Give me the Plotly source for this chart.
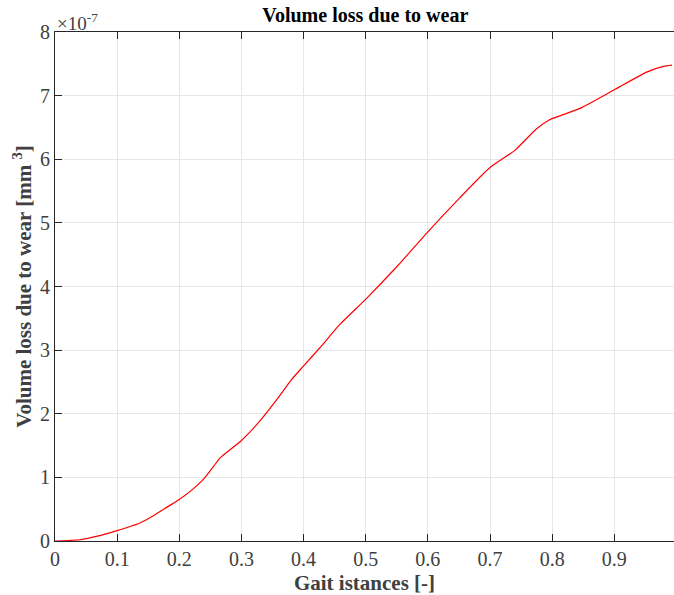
import plotly.graph_objects as go

# Data (x: gait instances, y: volume loss in 1e-7 mm^3)
gait = [0.0, 0.04, 0.07, 0.0985, 0.136, 0.152, 0.175, 0.198, 0.22, 0.238, 0.255, 0.265,
        0.30, 0.329, 0.362, 0.38, 0.399, 0.43, 0.458, 0.501, 0.55, 0.60, 0.651, 0.70,
        0.74, 0.775, 0.796, 0.845, 0.898, 0.952, 0.979, 0.993]
volume_e7 = [0.0, 0.02, 0.08, 0.16, 0.28, 0.36, 0.50, 0.64, 0.80, 0.96, 1.17, 1.30,
             1.58, 1.88, 2.29, 2.53, 2.74, 3.08, 3.40, 3.81, 4.31, 4.86, 5.39, 5.87,
             6.14, 6.48, 6.62, 6.80, 7.08, 7.37, 7.46, 7.48]
volume = [v * 1e-7 for v in volume_e7]

x_ticks = [0, 0.1, 0.2, 0.3, 0.4, 0.5, 0.6, 0.7, 0.8, 0.9]
x_ticklabels = ["0", "0.1", "0.2", "0.3", "0.4", "0.5", "0.6", "0.7", "0.8", "0.9"]
y_ticks = [i * 1e-7 for i in range(9)]
y_ticklabels = [str(i) for i in range(9)]

FONT = "Liberation Serif, Times New Roman, serif"
AX = "#262626"
TXT = "#404040"
GRID = "#e6e6e6"

fig = go.Figure()
fig.add_trace(go.Scatter(x=gait, y=volume, mode="lines",
                         line=dict(color="#ff0000", width=1.2, shape="spline", smoothing=0.6),
                         showlegend=False))

fig.update_layout(
    width=674, height=595,
    margin=dict(l=55, r=0, t=32, b=54),
    paper_bgcolor="white", plot_bgcolor="white",
    font=dict(family=FONT, color=AX, size=20),
    title=dict(text="<b>Volume loss due to wear</b>", x=0.542, xanchor="center",
               y=0.986, yanchor="top", font=dict(family=FONT, size=20, color="black")),
    xaxis=dict(range=[0, 0.9961], tickvals=x_ticks, ticktext=x_ticklabels,
               showgrid=True, gridcolor=GRID, gridwidth=1,
               showline=True, linecolor=AX, linewidth=1.2, mirror="ticks",
               ticks="inside", ticklen=7, tickcolor=AX, tickwidth=1.2,
               zeroline=False, automargin=False, tickfont=dict(size=20, color=TXT),
               title=dict(text="<b>Gait istances [-]</b>",
                          font=dict(size=21, color=TXT))),
    yaxis=dict(range=[0, 8e-7], tickvals=y_ticks, ticktext=y_ticklabels,
               showgrid=True, gridcolor=GRID, gridwidth=1,
               showline=True, linecolor=AX, linewidth=1.2, mirror=False,
               ticks="inside", ticklen=7, tickcolor=AX, tickwidth=1.2,
               zeroline=False, automargin=False, tickfont=dict(size=20, color=TXT),
               title=dict(text="<b>Volume loss due to wear [mm <sup>3</sup>]</b>", standoff=2,
                          font=dict(size=21, color=TXT))),
    yaxis2=dict(range=[0, 8e-7], tickvals=y_ticks, overlaying="y", side="right",
                showticklabels=False, showgrid=False, showline=False, zeroline=False,
                ticks="inside", ticklen=7, tickcolor=AX, tickwidth=1.2, automargin=False),
)

fig.add_annotation(text="×10<sup>-7</sup>", xref="paper", yref="paper",
                   x=0.0, y=1.0, xanchor="left", yanchor="bottom", showarrow=False,
                   font=dict(family=FONT, size=19, color=TXT), yshift=-4)

fig.write_html("out.html", config={"displayModeBar": False},
               post_script="document.body.style.margin='0px';document.body.style.overflow='hidden';")
